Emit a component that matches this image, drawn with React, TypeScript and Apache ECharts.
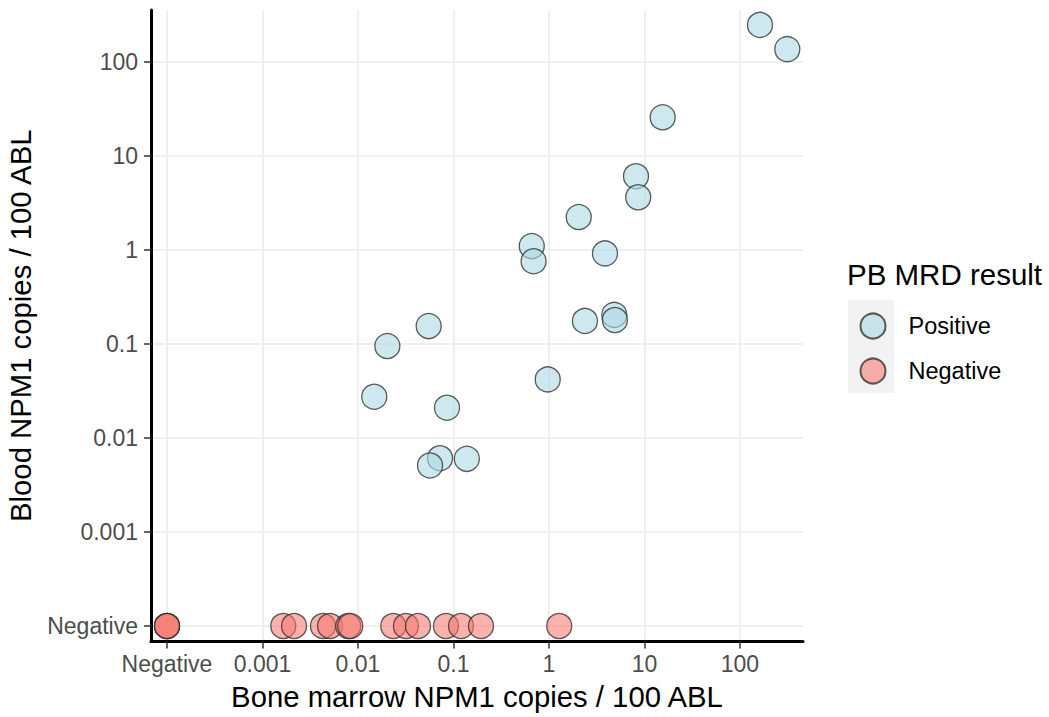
import React, { useEffect, useRef } from "react";
import * as echarts from "echarts";

// null = "Negative" (plotted at the 1e-4 position)
const positiveBM = [162, 313, 15.5, 8.15, 8.6, 2.05, 0.66, 0.69, 3.86, 2.38, 4.83, 4.9, 0.97, 0.055, 0.0203, 0.0148, 0.0855, 0.0723, 0.0568, 0.138];
const positivePB = [248, 137, 25.8, 6.1, 3.64, 2.24, 1.1, 0.76, 0.92, 0.176, 0.204, 0.18, 0.042, 0.155, 0.095, 0.0275, 0.021, 0.0061, 0.0051, 0.006];
const negativeBM = [null, null, null, 0.00165, 0.00214, 0.0043, 0.0051, 0.0079, 0.0083, 0.0234, 0.0318, 0.0425, 0.0834, 0.12, 0.194, 1.28];
const negativePB = [null, null, null, null, null, null, null, null, null, null, null, null, null, null, null, null];

const tickValues = [-4, -3, -2, -1, 0, 1, 2];
const tickLabels = ["Negative", "0.001", "0.01", "0.1", "1", "10", "100"];
const seriesNames = ["Positive", "Negative"];
const xTitle = "Bone marrow NPM1 copies / 100 ABL";
const yTitle = "Blood NPM1 copies / 100 ABL";
const legendTitle = "PB MRD result";

const NEG_LOG = -4;
const toLog = (v: number | null) => (v == null ? NEG_LOG : Math.log10(v));
const FONT = "Liberation Sans, Arial, sans-serif";

const fmt = (v: number) => {
  const i = tickValues.indexOf(Math.round(v));
  return i >= 0 ? tickLabels[i] : "";
};

function makeAxis(min: number, max: number, name: string, isY: boolean) {
  return {
    type: "value",
    min,
    max,
    name,
    nameLocation: "middle",
    nameGap: isY ? 116 : 40,
    nameTextStyle: { fontSize: 29.3, color: "#000", fontFamily: FONT },
    axisLine: { show: true, onZero: false, lineStyle: { color: "#000", width: 3 } },
    axisTick: { show: true, customValues: tickValues, length: 7, lineStyle: { color: "#333", width: 1.5 } },
    axisLabel: {
      customValues: tickValues,
      formatter: fmt,
      color: "#4d4d4d",
      fontSize: 23,
      fontFamily: FONT,
      margin: isY ? 13 : 11,
    },
    splitLine: { show: true, lineStyle: { color: "#efefef", width: 2 } },
  };
}

export default function App() {
  const ref = useRef<HTMLDivElement>(null);
  useEffect(() => {
    if (!ref.current) return;
    const chart = echarts.init(ref.current, null, { renderer: "svg" });
    const posData = positiveBM.map((x, i) => [toLog(x), toLog(positivePB[i])]);
    const negData = negativeBM.map((x, i) => [toLog(x), toLog(negativePB[i])]);
    chart.setOption({
      animation: false,
      backgroundColor: "#fff",
      grid: { left: 151, top: 10, right: 246, bottom: 75.5, containLabel: false, outerBoundsMode: "none" },
      xAxis: makeAxis(-4.1675, 2.66, xTitle, false),
      yAxis: makeAxis(-4.165, 2.553, yTitle, true),
      legend: {
        orient: "vertical",
        left: 859.5,
        top: 312.5,
        padding: 0,
        itemWidth: 25,
        itemHeight: 25,
        itemGap: 18,
        icon: "circle",
        data: seriesNames,
        textStyle: { fontSize: 23.5, color: "#000", fontFamily: FONT, padding: [0, 0, 0, 18] },
      },
      graphic: [
        { type: "rect", left: 848, top: 300, shape: { width: 46, height: 93 }, style: { fill: "#f2f2f2" }, z: -1 },
        { type: "text", left: 847, top: 259, style: { text: legendTitle, fontSize: 29.5, fill: "#000", fontFamily: FONT } },
      ],
      series: [
        {
          name: seriesNames[0],
          type: "scatter",
          symbolSize: 25,
          data: posData,
          itemStyle: { color: "rgba(173,216,230,0.75)", borderColor: "#333", borderWidth: 1.3 },
        },
        {
          name: seriesNames[1],
          type: "scatter",
          symbolSize: 25,
          data: negData,
          itemStyle: { color: "rgba(248,118,109,0.7)", borderColor: "#333", borderWidth: 1.3 },
        },
      ],
    });
    return () => chart.dispose();
  }, []);
  return <div ref={ref} style={{ width: 1049, height: 717, position: "absolute", left: 0, top: 0 }} />;
}
